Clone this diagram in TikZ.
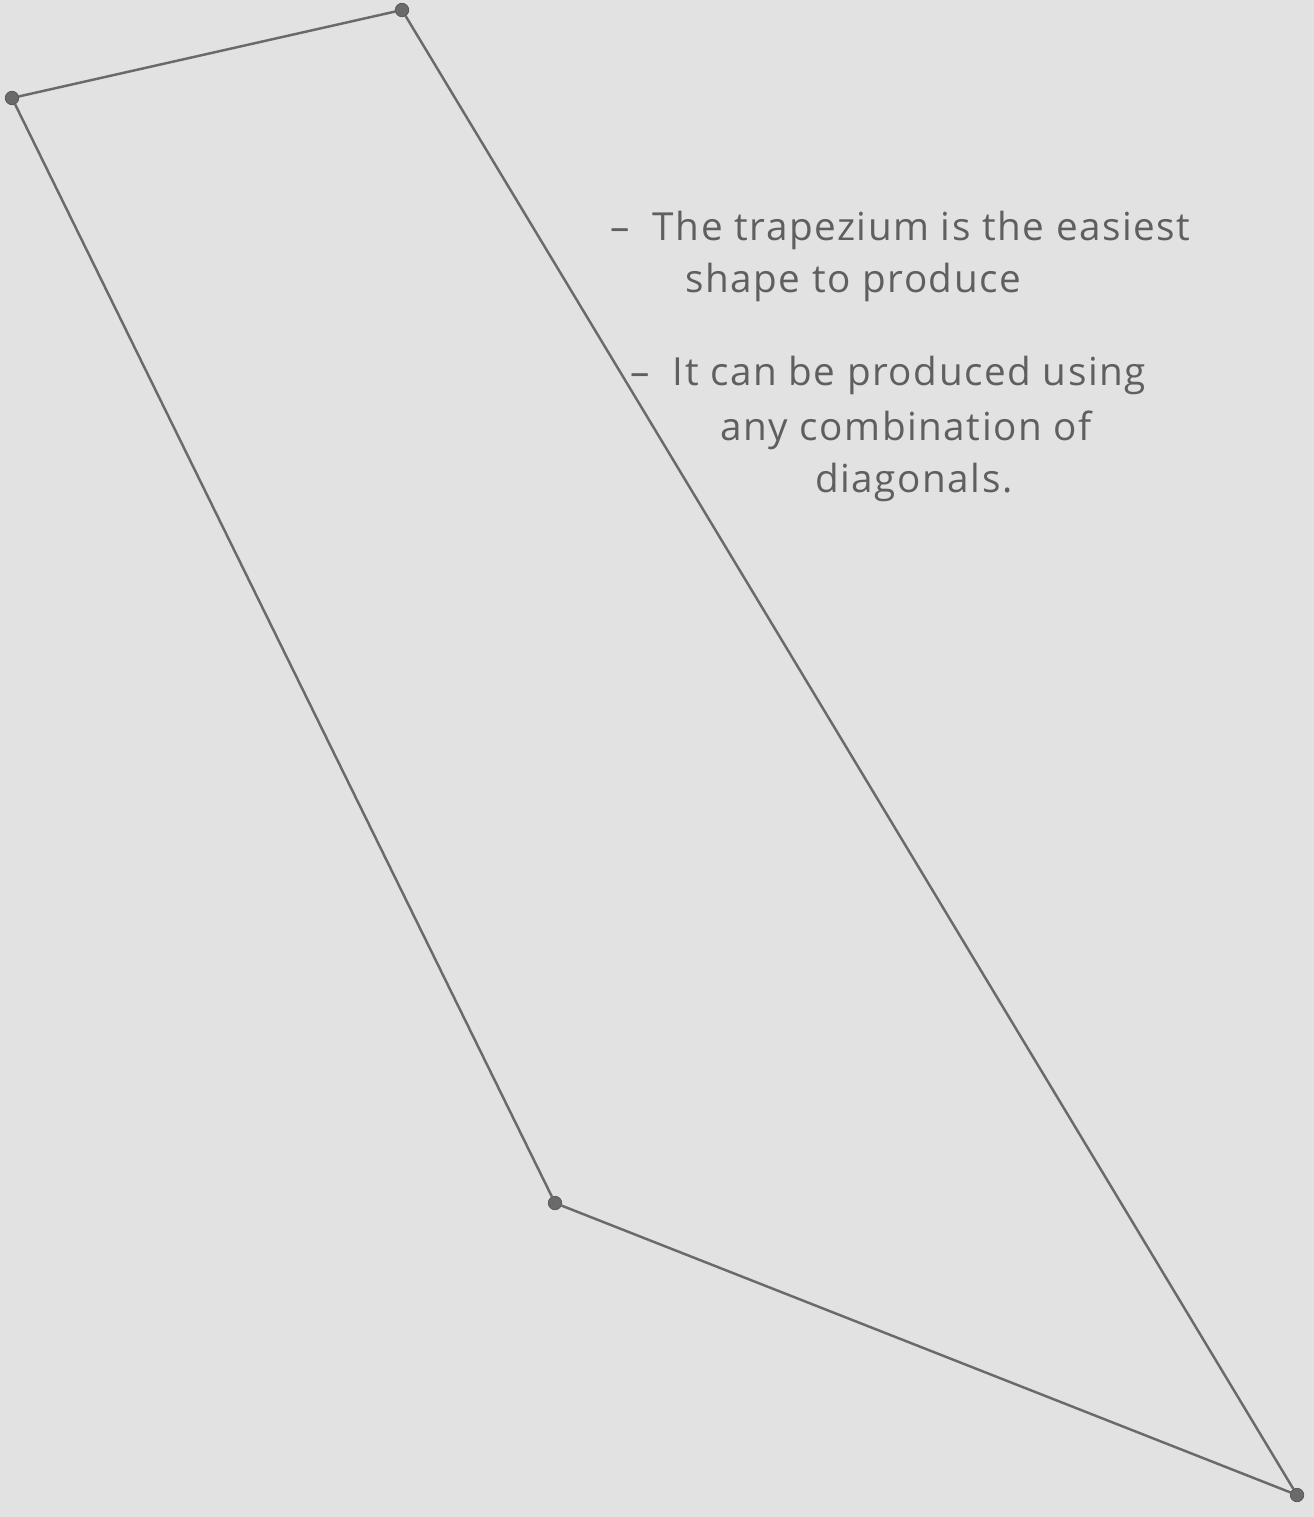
\documentclass[tikz,border=0pt]{standalone}
\usepackage{fontspec}
\setmainfont{Open Sans}[LetterSpace=4]
\definecolor{paper}{HTML}{E2E2E2}
\definecolor{pencil}{HTML}{6A6A6A}
\begin{document}
\begin{tikzpicture}[x=0.02cm, y=-0.02cm, line join=round,
                    dot/.style={circle, fill=pencil, draw=pencil!80!black,
                                inner sep=0pt, minimum size=0.27cm},
                    side/.style={pencil, line width=1.4pt},
                    note/.style={anchor=base west, inner sep=0pt, text=pencil!90!black,
                                 font=\fontsize{22}{26}\selectfont}]

  %--- papel (1 unidad = 1 px) ---
  \fill[paper] (0,0) rectangle (1314,1517);
  \useasboundingbox (0,0) rectangle (1314,1517);

  %--- vértices ---
  \node[dot] (A) at (12,98) {};
  \node[dot] (B) at (402,10) {};
  \node[dot] (D) at (555,1203) {};
  \node[dot] (C) at (1297,1495) {};

  %--- lados ---
  \draw[side] (A) -- (B);
  \draw[side] (B) -- (C);
  \draw[side] (A) -- (D);
  \draw[side] (D) -- (C);

  %--- notas ---
  \node[note] (n1) at (610,240) {– \ The trapezium is the easiest};
  \node[note] (n2) at (685,292) {shape to produce};
  \node[note] (n3) at (630,385) {– \ It can be produced using};
  \node[note] (n4) at (720,440) {any combination of};
  \node[note] (n5) at (815,492) {diagonals.};

\end{tikzpicture}
\end{document}
